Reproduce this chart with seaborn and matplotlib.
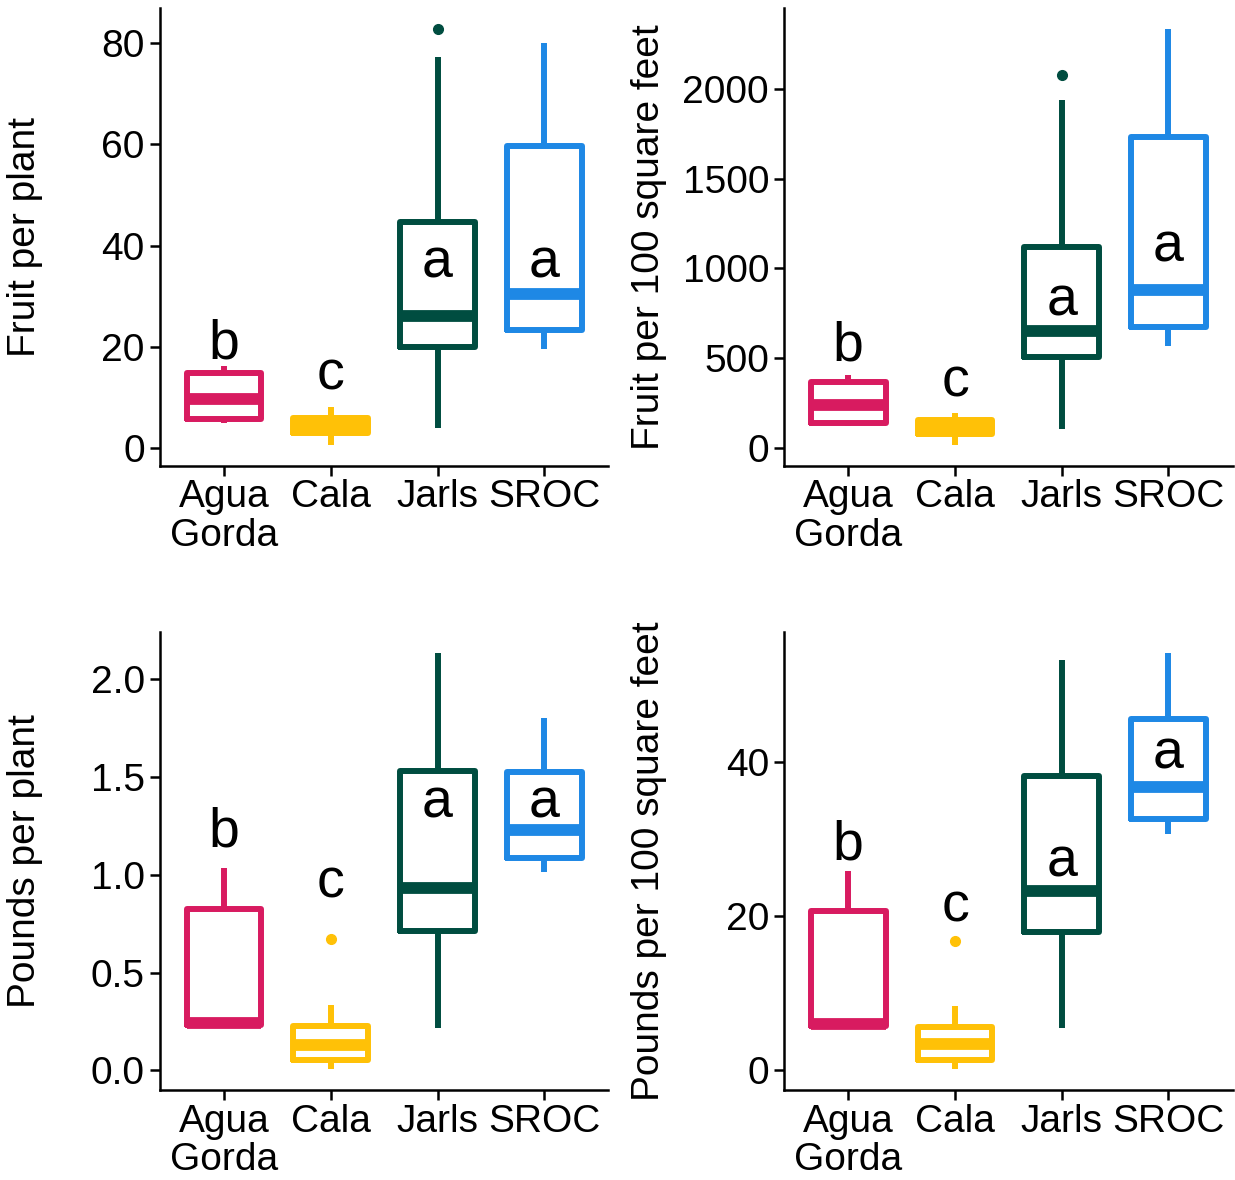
import numpy as np
import pandas as pd
import matplotlib
matplotlib.use("Agg")
import matplotlib.pyplot as plt
import seaborn as sns

# ---------------- data ----------------
sites = ["Agua\nGorda", "Cala", "Jarls", "SROC"]
colors = ["#D81B60", "#FFC107", "#004D40", "#1E88E5"]
letters = ["b", "c", "a", "a"]

# Fruit per plant
fpp_lo = [5.0, 0.7, 4.1, 19.6]
fpp_q1 = [5.8, 3.0, 20.1, 23.3]
fpp_med = [9.8, 4.5, 26.2, 30.4]
fpp_q3 = [14.9, 6.0, 44.7, 59.6]
fpp_hi = [16.3, 8.2, 77.3, 80.0]
fpp_out = [[], [], [82.8], []]
fpp_letter_y = [17.7, 11.7, 33.7, 33.7]
fpp_ticks = [0, 20, 40, 60, 80]

# Fruit per 100 square feet
fsf_lo = [120, 16, 106, 567]
fsf_q1 = [136, 76, 507, 673]
fsf_med = [240, 112, 653, 882]
fsf_q3 = [367, 152, 1118, 1735]
fsf_hi = [407, 196, 1940, 2337]
fsf_out = [[], [], [2080], []]
fsf_letter_y = [487, 287, 737, 1038]
fsf_ticks = [0, 500, 1000, 1500, 2000]

# Pounds per plant
ppp_lo = [0.23, 0.006, 0.219, 1.015]
ppp_q1 = [0.23, 0.053, 0.714, 1.086]
ppp_med = [0.24, 0.13, 0.933, 1.229]
ppp_q3 = [0.825, 0.229, 1.53, 1.524]
ppp_hi = [1.034, 0.333, 2.133, 1.804]
ppp_out = [[], [0.672], [], []]
ppp_letter_y = [1.143, 0.886, 1.295, 1.295]
ppp_ticks = [0.0, 0.5, 1.0, 1.5, 2.0]

# Pounds per 100 square feet
psf_lo = [5.8, 0.15, 5.5, 30.6]
psf_q1 = [5.8, 1.35, 17.9, 32.6]
psf_med = [6.0, 3.4, 23.2, 36.8]
psf_q3 = [20.6, 5.66, 38.2, 45.6]
psf_hi = [25.8, 8.3, 53.2, 54.1]
psf_out = [[], [16.8], [], []]
psf_letter_y = [27.3, 19.3, 25.2, 39.2]
psf_ticks = [0, 20, 40]


def box_table(lo, q1, med, q3, hi, out):
    """Observations reproducing the read five-number summaries."""
    rows = []
    for s, a, b, c, d, e, o in zip(sites, lo, q1, med, q3, hi, out):
        if o:
            vals = [a, b, b, c, c, d, d, e] + list(o)
        else:
            vals = [a, b, c, d, e]
        rows += [(s, v) for v in vals]
    return pd.DataFrame(rows, columns=["site", "value"])


panels = [
    (box_table(fpp_lo, fpp_q1, fpp_med, fpp_q3, fpp_hi, fpp_out),
     "Fruit per plant", fpp_ticks, "{:.0f}", fpp_letter_y),
    (box_table(fsf_lo, fsf_q1, fsf_med, fsf_q3, fsf_hi, fsf_out),
     "Fruit per 100 square feet", fsf_ticks, "{:.0f}", fsf_letter_y),
    (box_table(ppp_lo, ppp_q1, ppp_med, ppp_q3, ppp_hi, ppp_out),
     "Pounds per plant", ppp_ticks, "{:.1f}", ppp_letter_y),
    (box_table(psf_lo, psf_q1, psf_med, psf_q3, psf_hi, psf_out),
     "Pounds per 100 square feet", psf_ticks, "{:.0f}", psf_letter_y),
]

# ---------------- style ----------------
sns.set_style("ticks")
plt.rcParams["font.family"] = ["Liberation Sans", "DejaVu Sans"]
plt.rcParams["axes.edgecolor"] = "black"
plt.rcParams["axes.labelcolor"] = "black"
plt.rcParams["text.color"] = "black"
plt.rcParams["xtick.color"] = "black"
plt.rcParams["ytick.color"] = "black"
plt.rcParams["xtick.labelcolor"] = "black"
plt.rcParams["ytick.labelcolor"] = "black"

fig, axes = plt.subplots(2, 2, figsize=(12.35, 11.8), dpi=100)
fig.subplots_adjust(left=0.1296, right=0.998, bottom=0.0763, top=0.9932,
                    wspace=0.3926, hspace=0.3645)

for ax, (df, ylabel, ticks, fmt, ly) in zip(axes.flat, panels):
    sns.boxplot(data=df, x="site", y="value", hue="site", order=sites,
                hue_order=sites, palette=colors, fill=False, width=0.7,
                linewidth=4.3, showcaps=False, whis=1.5, legend=False,
                medianprops={"linewidth": 8.5, "solid_capstyle": "butt"},
                whiskerprops={"solid_capstyle": "butt"},
                flierprops={"marker": "o", "markersize": 7}, ax=ax)
    for ln in ax.lines:
        if ln.get_marker() == "o":
            ln.set_markerfacecolor(ln.get_markeredgecolor())
    for i, (lt, y) in enumerate(zip(letters, ly)):
        ax.text(i, y, lt, ha="center", va="baseline", fontsize=40,
                color="black")
    ax.set_xlim(-0.6, 3.6)
    ax.set_yticks(ticks)
    ax.set_yticklabels([fmt.format(t) for t in ticks])
    ax.set_xlabel("")
    ax.set_ylabel(ylabel, fontsize=28, color="black")
    ax.yaxis.set_label_coords(-0.261, 0.5)
    ax.tick_params(axis="both", labelsize=28, width=1.8, length=7,
                   color="black", labelcolor="black", pad=4)
    ax.tick_params(axis="x", pad=3)
    for lab in ax.get_xticklabels():
        lab.set_linespacing(1.08)
    for sp in ["left", "bottom"]:
        ax.spines[sp].set_linewidth(1.8)
    sns.despine(ax=ax)

fig.savefig("out.png", dpi=100)
